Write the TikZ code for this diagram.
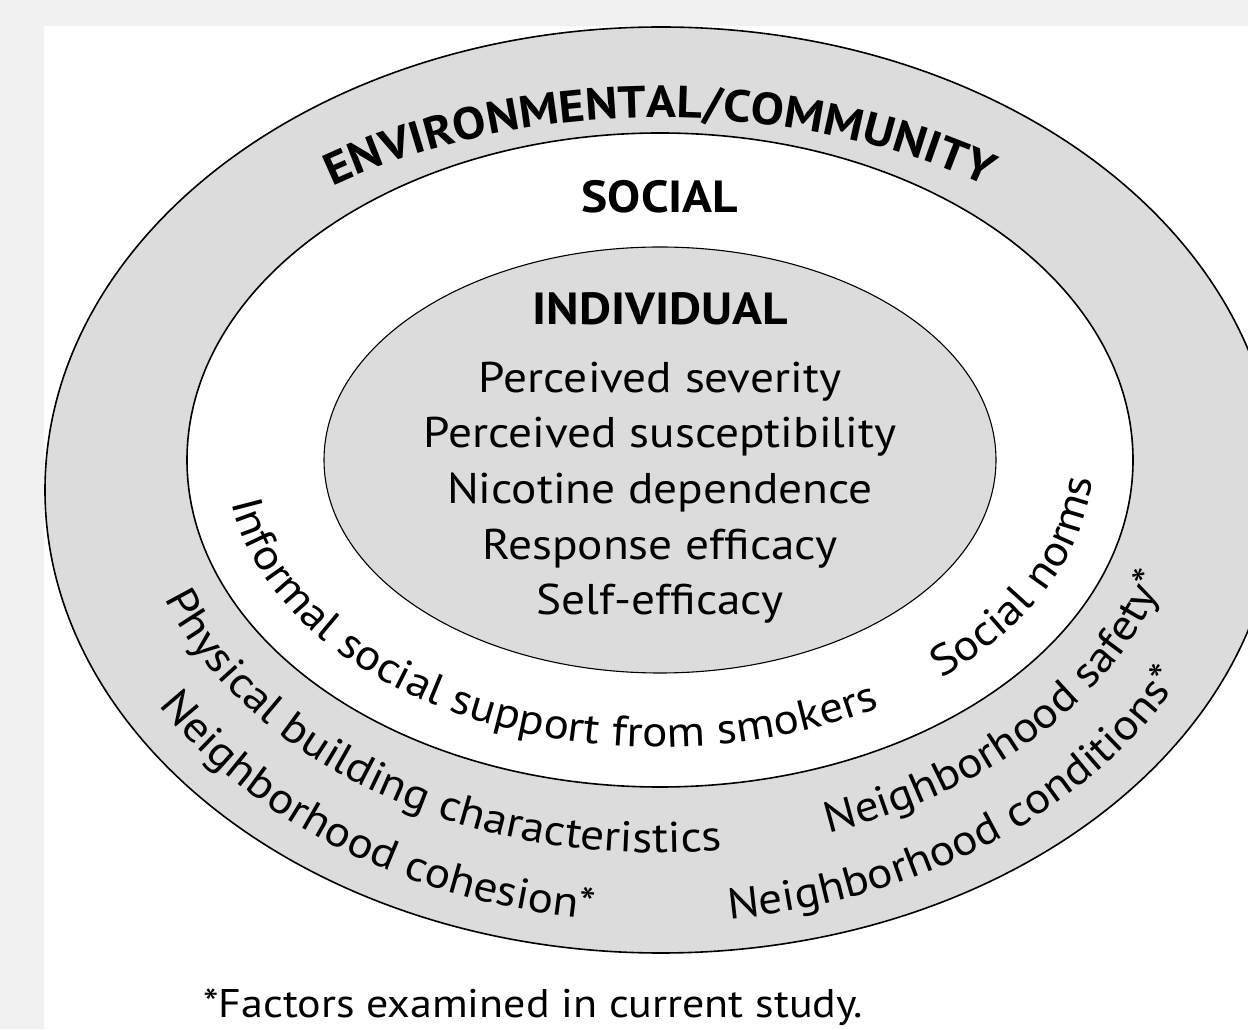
\documentclass[tikz,border=0pt]{standalone}
\usepackage{fontspec}
\setmainfont{PT Sans}[FakeStretch=1.1]
\usetikzlibrary{decorations.text}

\definecolor{ringgray}{RGB}{220,220,220}
\definecolor{panelgray}{RGB}{241,241,241}
\newcommand\bodysize{\fontsize{43}{52}\selectfont}
\newcommand\headsize{\fontsize{45}{52}\selectfont\bfseries}

\begin{document}
\begin{tikzpicture}
        [x=1pt,y=1pt,
         ring/.style={fill=ringgray,draw=black,line width=1.6pt},
         level/.style={font=\headsize,inner sep=0pt,anchor=base},
         item/.style={font=\bodysize,inner sep=0pt,anchor=base},
         arctext/.style={decorate,decoration={text along path,text align=center,text={|\bodysize|#1}}}]
        \useasboundingbox (0,0) rectangle (1248,1029);
        \clip (0,0) rectangle (1248,1029);
        \fill[panelgray] (0,0) rectangle (1248,1029);
        \fill[white] (44,0) rectangle (1248,1003);

        % the three levels
        \draw[ring] (661,539) ellipse [x radius=616pt, y radius=463pt];
        \draw[ring,fill=white] (660,569) ellipse [x radius=473pt, y radius=327pt];
        \draw[ring,line width=1.1pt] (660,569) ellipse [x radius=336pt, y radius=213pt];

        \path[decorate,decoration={text along path,text align=center,
            text={|\headsize|ENVIRONMENTAL/COMMUNITY}}]
            (660,569) ++(150:546pt and 342pt) arc[start angle=150,end angle=30,x radius=546pt,y radius=342pt];
        \node[level] (social) at (660,816) {SOCIAL};
        \node[level] (individual) at (660,704) {INDIVIDUAL};

        \foreach \txt/\y [count=\i] in {Perceived severity/636, Perceived susceptibility/581,
            Nicotine dependence/525, Response efficacy/469, Self-efficacy/414}
        \node[item] (factor\i) at (660,\y) {\txt};

        % social ring
        \path[arctext=Informal social support from smokers]
            (660,569) ++(168:433pt and 287pt) arc[start angle=168,end angle=316,x radius=433pt,y radius=287pt];
        \path[arctext=Social norms]
            (660,569) ++(304:433pt and 287pt) arc[start angle=304,end angle=365,x radius=433pt,y radius=287pt];

        % environmental ring
        \path[arctext=Physical building characteristics]
            (660,559) ++(186:526pt and 383pt) arc[start angle=186,end angle=287,x radius=526pt,y radius=383pt];
        \path[arctext=Neighborhood safety*]
            (660,559) ++(278:526pt and 383pt) arc[start angle=278,end angle=358,x radius=526pt,y radius=383pt];
        \path[arctext=Neighborhood cohesion*]
            (660,559) ++(196:587pt and 452pt) arc[start angle=196,end angle=276,x radius=587pt,y radius=452pt];
        \path[arctext=Neighborhood conditions*]
            (660,559) ++(266:587pt and 452pt) arc[start angle=266,end angle=346,x radius=587pt,y radius=452pt];

        \node[item,font=\fontsize{40}{48}\selectfont,anchor=base west] (note) at (203,12) {*Factors examined in current study.};
\end{tikzpicture}
\end{document}
